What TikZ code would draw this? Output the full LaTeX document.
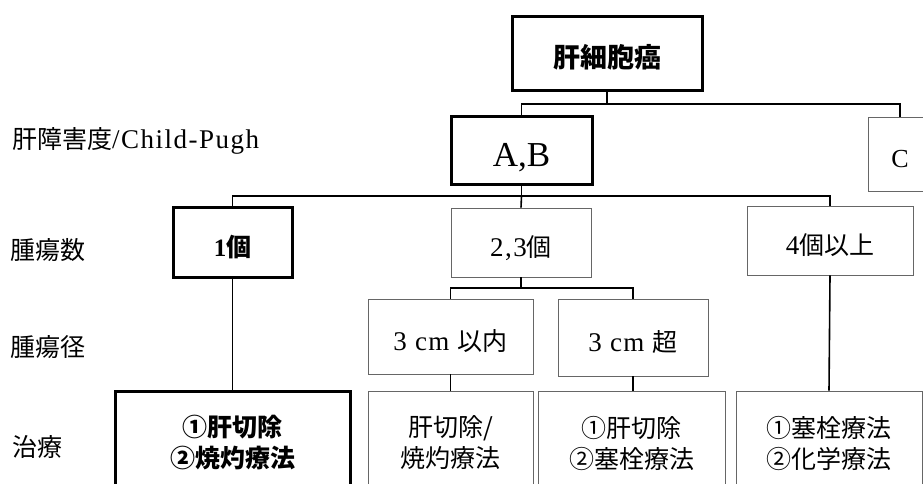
\documentclass[tikz,border=0pt]{standalone}
\usepackage{fontspec}
\setmainfont{Liberation Serif}
\newfontfamily\latw{Liberation Serif}[Scale=1.08, LetterSpace=5.5]
\newfontfamily\jp{Noto Sans CJK JP}
\begin{document}
\begin{tikzpicture}[x=1pt,y=-1pt,
  txt/.style={font=\fontsize{25}{31}\selectfont, align=center},
  box/.style={txt, draw=black!60, line width=0.9pt, inner sep=0pt},
  bbox/.style={txt, draw=black, line width=3pt, inner sep=0pt, font=\fontsize{25}{31}\selectfont\bfseries},
  low/.style={text height=#1, text depth=0pt},
  low/.default=27pt,
  lbl/.style={font=\fontsize{25}{31}\selectfont, anchor=west, inner sep=0pt},
  conn/.style={line width=1.6pt}]
\useasboundingbox (0,0) rectangle (923,484);
% nodes
\node[bbox, low=27.5pt, minimum width=190, minimum height=74, font=\fontsize{27}{31}\selectfont\bfseries] (root) at (607,54) {\jp 肝細胞癌};
\node[bbox, low=32pt, minimum width=141, minimum height=67, font=\fontsize{35}{40}\selectfont] (ab) at (521.5,150.5) {A,B};
\node[box, low=27pt, minimum width=64, minimum height=74, font=\fontsize{26}{30}\selectfont] (c) at (900,154) {C};
\node[bbox, low=28pt, minimum width=119, minimum height=70] (n1) at (232.5,242) {1{\jp 個}};
\node[box, low, minimum width=140, minimum height=69] (n23) at (521,242.5) {{\latw 2,3}{\jp 個}};
\node[box, low, minimum width=166, minimum height=69] (n4) at (830,240.5) {{\latw 4}{\jp 個以上}};
\node[box, low, minimum width=165, minimum height=75] (s1) at (450.5,336.5) {{\latw 3 cm }{\jp 以内}};
\node[box, low, minimum width=150, minimum height=77] (s2) at (633,337.5) {{\latw 3 cm }{\jp 超}};
\node[bbox, minimum width=235, minimum height=104] (t1) at (232.5,443) {\jp ①肝切除\\\jp ②焼灼療法};
\node[box, minimum width=165, minimum height=104] (t2) at (450.5,443) {\jp 肝切除/\\\jp 焼灼療法};
\node[box, minimum width=187, minimum height=104] (t3) at (631.5,443) {\jp ①肝切除\\\jp ②塞栓療法};
\node[box, minimum width=186, minimum height=104] (t4) at (829,443) {\jp ①塞栓療法\\\jp ②化学療法};
% row labels
\node[lbl] (l1) at (12,141) {{\jp 肝障害度}{\latw /Child-Pugh}};
\node[lbl] (l2) at (10,250) {\jp 腫瘍数};
\node[lbl] (l3) at (10,347) {\jp 腫瘍径};
\node[lbl] (l4) at (12,447) {\jp 治療};
% bus coordinates
\coordinate (b1) at (0,104);
\coordinate (b2) at (0,196);
\coordinate (b3) at (0,288);
% connectors
\draw[conn] (root.south) -- (root.south |- b1);
\draw[conn] (ab.north) |- (root.south |- b1) -| (c.north);
\draw[conn] (ab.south) -- (ab.south |- b2);
\draw[conn] (n1.north) |- (ab.south |- b2) -| (n4.north);
\draw[conn] (ab.south |- b2) -- (n23.north);
\draw[conn] (n23.south) -- (n23.south |- b3);
\draw[conn] (s1.north) |- (n23.south |- b3) -| (s2.north);
\draw[conn] (n1.south) -- (t1.north);
\draw[conn] (s1.south) -- (t2.north);
\draw[conn] (s2.south) -- (s2.south |- t3.north);
\draw[conn] (n4.south) -- (t4.north);
\end{tikzpicture}
\end{document}
